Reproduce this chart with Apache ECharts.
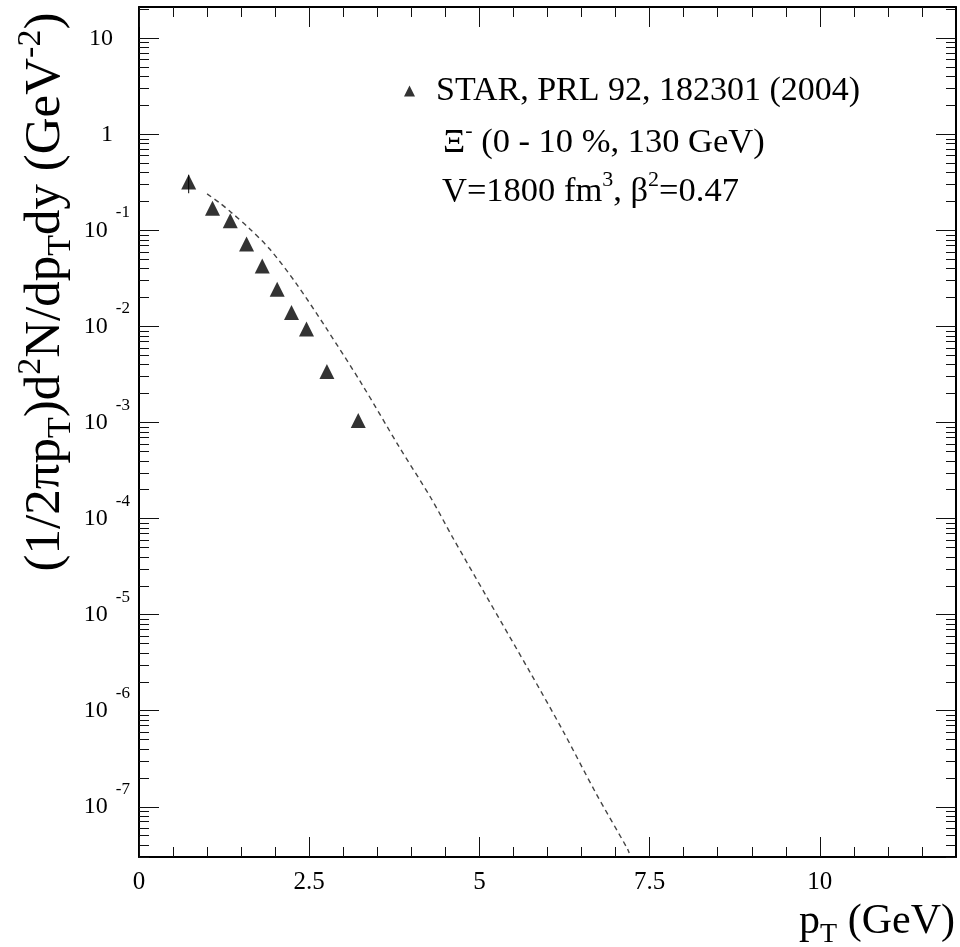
<!DOCTYPE html>
<html>
<head>
<meta charset="utf-8">
<script src="https://cdn.jsdelivr.net/npm/echarts@6/dist/echarts.min.js"></script>
<style>
  html, body { margin: 0; padding: 0; background: #fff; }
  #chart { width: 960px; height: 947px; }
</style>
</head>
<body>
<div id="chart"></div>
<script>
// STAR Xi- transverse momentum spectrum, 0-10 % central, 130 GeV
const starPt    = [0.73, 1.08, 1.34, 1.58, 1.81, 2.03, 2.24, 2.46, 2.76, 3.22];
const starYield = [0.32, 0.170, 0.126, 0.0724, 0.0427, 0.0244, 0.0140, 0.0094, 0.0034, 0.00105];

// error bar that sticks out of its marker
const errPt   = [0.73];
const errLow  = [0.244];
const errHigh = [0.38];

// model curve (V = 1800 fm^3, beta^2 = 0.47)
const modelPt    = [1.00, 1.18, 1.36, 1.62, 1.92, 2.31, 2.75, 3.28, 3.82, 4.29, 4.60, 5.09, 5.75, 6.22, 6.71, 7.17, 7.20];
const modelYield = [0.240, 0.195, 0.153, 0.105, 0.064, 0.028, 0.0096, 0.00247, 5.6e-4, 1.63e-4, 6.5e-5, 1.61e-5, 2.47e-6, 6.3e-7, 1.39e-7, 3.7e-8, 3.3e-8];

// axis ticks
const xMajor = [0, 2.5, 5, 7.5, 10];
const xMinor = [0.5, 1, 1.5, 2, 3, 3.5, 4, 4.5, 5.5, 6, 6.5, 7, 8, 8.5, 9, 9.5, 10.5, 11, 11.5];
const yDecades = [10, 1, 0.1, 0.01, 1e-3, 1e-4, 1e-5, 1e-6, 1e-7];
const yMinor = [];
for (let e = -8; e <= 1; e++) {
  for (let k = 2; k <= 9; k++) yMinor.push(k * Math.pow(10, e));
}

const xMin = 0, xMax = 12;
const yMin = 3.0e-8, yMax = 21.2;

const legendName = 'STAR, PRL 92, 182301 (2004)';
const serif = 'Liberation Serif';

const chart = echarts.init(document.getElementById('chart'), null, { renderer: 'canvas' });

function xAxisDef(pos, major) {
  return {
    type: 'value', position: pos, min: xMin, max: xMax,
    axisLine: { show: major, onZero: false, lineStyle: { color: '#000', width: 2 } },
    axisTick: { show: true, inside: true, length: major ? 20 : 10,
                customValues: major ? xMajor : xMinor,
                lineStyle: { color: '#111', width: 1 } },
    axisLabel: (major && pos === 'bottom') ? {
      show: true, customValues: xMajor, margin: 13,
      fontFamily: serif, fontSize: 25, color: '#000',
      formatter: v => String(v)
    } : { show: false },
    splitLine: { show: false }
  };
}

function yAxisDef(pos, major) {
  return {
    type: 'log', position: pos, min: yMin, max: yMax,
    axisLine: { show: major, onZero: false, lineStyle: { color: '#000', width: 2 } },
    axisTick: { show: true, inside: true, length: major ? 20 : 10,
                customValues: major ? yDecades : yMinor,
                lineStyle: { color: '#111', width: 1 } },
    axisLabel: (major && pos === 'left') ? {
      show: true, customValues: yDecades, margin: 9,
      fontFamily: serif, color: '#000',
      formatter: v => {
        const e = Math.round(Math.log10(v));
        if (e === 0) return '{p|1}';
        if (e === 1) return '{p|10}';
        return '{b|10}{s|' + e + '}';
      },
      rich: {
        p: { fontFamily: serif, fontSize: 24, color: '#000', padding: [0, 17, 0, 0] },
        b: { fontFamily: serif, fontSize: 24, color: '#000', lineHeight: 52 },
        s: { fontFamily: serif, fontSize: 17, color: '#000', lineHeight: 18, verticalAlign: 'top', padding: [0, 0, 0, 8] }
      }
    } : { show: false },
    splitLine: { show: false }
  };
}

const xTitleRich = {
  m:   { fontFamily: serif, fontSize: 42, color: '#000', lineHeight: 54 },
  sub: { fontFamily: serif, fontSize: 28, color: '#000', lineHeight: 27, verticalAlign: 'bottom' }
};
const yTitleRich = {
  m:   { fontFamily: serif, fontSize: 51, color: '#000', lineHeight: 64 },
  sub: { fontFamily: serif, fontSize: 34, color: '#000', lineHeight: 32, verticalAlign: 'bottom' },
  sup: { fontFamily: serif, fontSize: 34, color: '#000', lineHeight: 32, verticalAlign: 'top' }
};
const noteRich = {
  m:   { fontFamily: serif, fontSize: 34.5, color: '#000', lineHeight: 46 },
  sup: { fontFamily: serif, fontSize: 22, color: '#000', lineHeight: 21, verticalAlign: 'top' }
};

const option = {
  backgroundColor: '#fff',
  animation: false,
  grid: { left: 139, right: 4, top: 7, bottom: 90, containLabel: false },
  xAxis: [ xAxisDef('bottom', true), xAxisDef('bottom', false), xAxisDef('top', true), xAxisDef('top', false) ],
  yAxis: [ yAxisDef('left', true), yAxisDef('left', false), yAxisDef('right', true), yAxisDef('right', false) ],
  legend: {
    data: [{ name: legendName, icon: 'triangle' }],
    left: 404, top: 71, padding: 0,
    itemWidth: 11, itemHeight: 11,
    textStyle: { fontFamily: serif, fontSize: 34, color: '#000', padding: [0, 0, 0, 16], lineHeight: 40 },
    selectedMode: false
  },
  graphic: [
    { type: 'text', x: 443, y: 143,
      style: { text: '{m|Ξ}{sup|-}{m| (0 - 10 %, 130 GeV)}', rich: noteRich, align: 'left', verticalAlign: 'middle' } },
    { type: 'text', x: 442, y: 192,
      style: { text: '{m|V=1800 fm}{sup|3}{m|, β}{sup|2}{m|=0.47}', rich: noteRich, align: 'left', verticalAlign: 'middle' } },
    { type: 'text', x: 955, y: 922,
      style: { text: '{m|p}{sub|T}{m| (GeV)}', rich: xTitleRich, align: 'right', verticalAlign: 'middle' } },
    { type: 'text', x: 46, y: 292, rotation: Math.PI / 2,
      style: { text: '{m|(1/2πp}{sub|T}{m|)d}{sup|2}{m|N/dp}{sub|T}{m|dy (GeV}{sup|-2}{m|)}',
               rich: yTitleRich, align: 'center', verticalAlign: 'middle' } }
  ],
  series: [
    {
      name: 'model',
      type: 'line',
      xAxisIndex: 0, yAxisIndex: 0,
      data: modelPt.map((x, i) => [x, modelYield[i]]),
      showSymbol: false, smooth: 0.3,
      lineStyle: { color: '#444', width: 1.4, type: [5, 4] },
      z: 2
    },
    {
      name: 'errors',
      type: 'custom',
      xAxisIndex: 0, yAxisIndex: 0,
      data: errPt.map((x, i) => [x, errLow[i], errHigh[i]]),
      renderItem: (params, api) => {
        const a = api.coord([api.value(0), api.value(1)]);
        const b = api.coord([api.value(0), api.value(2)]);
        return { type: 'line', shape: { x1: a[0], y1: a[1], x2: b[0], y2: b[1] },
                 style: { stroke: '#000', lineWidth: 1 } };
      },
      z: 3
    },
    {
      name: legendName,
      type: 'scatter',
      xAxisIndex: 0, yAxisIndex: 0,
      data: starPt.map((x, i) => [x, starYield[i]]),
      symbol: 'triangle', symbolSize: 15,
      itemStyle: { color: '#000' },
      z: 4
    }
  ]
};

chart.setOption(option);
</script>
</body>
</html>
